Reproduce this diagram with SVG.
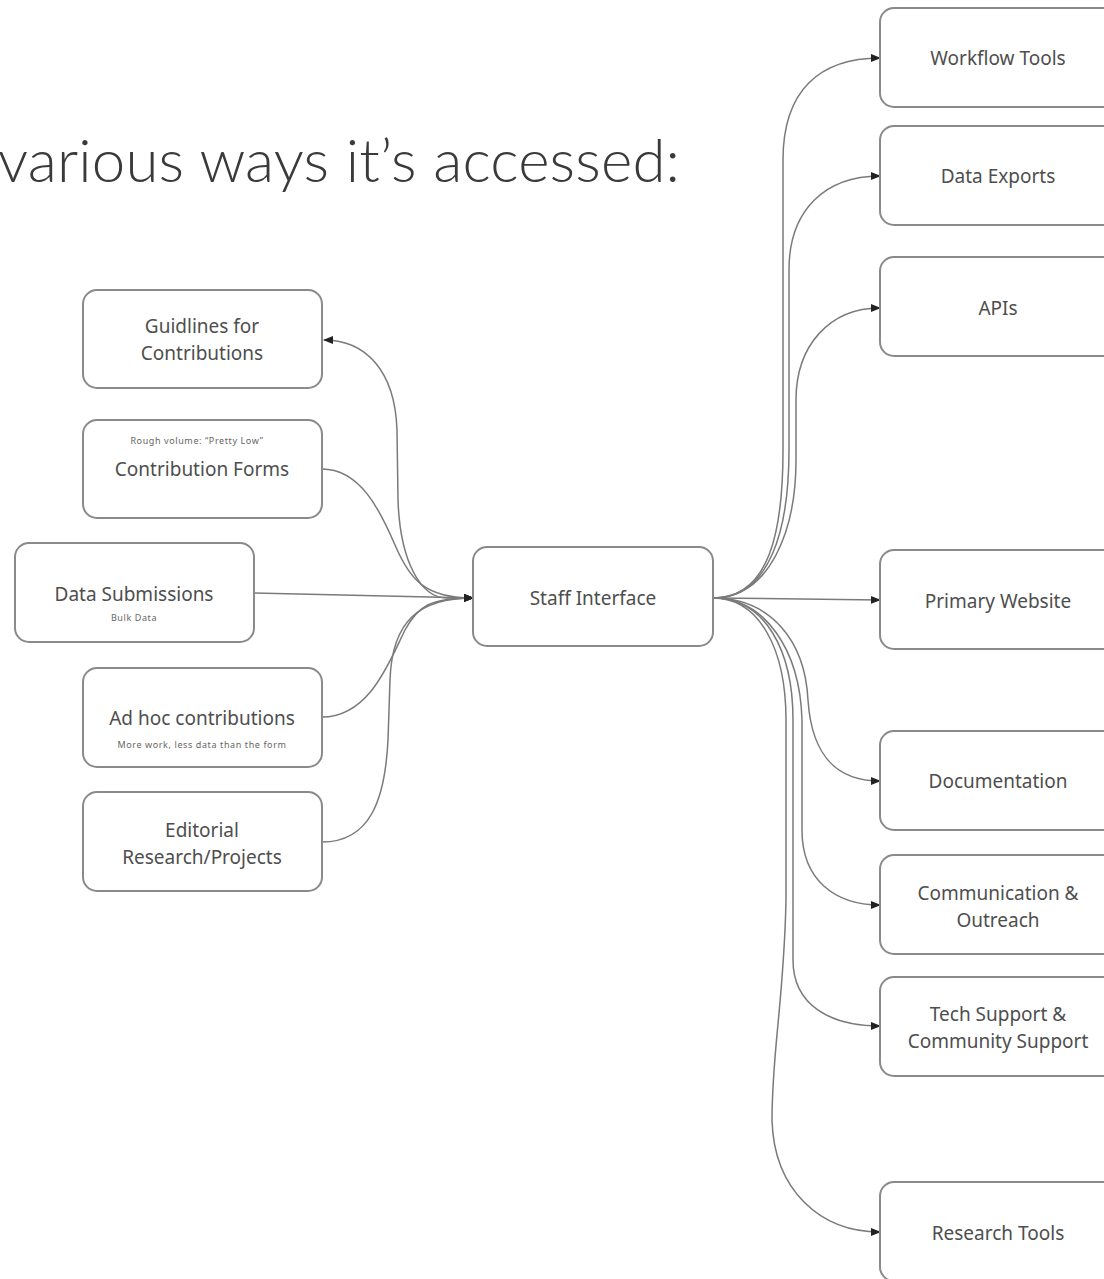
<svg xmlns="http://www.w3.org/2000/svg" width="1104" height="1279" viewBox="0 0 1104 1279">
<defs>
<style>
.box{fill:#fff;stroke:#8a8a8a;stroke-width:2}
.t{font-family:"Noto Sans","Open Sans",sans-serif;font-size:19px;fill:#4e4e4e;text-anchor:middle}
.s{font-family:"Noto Sans","Open Sans",sans-serif;font-size:9px;letter-spacing:0.6px;fill:#666;text-anchor:middle}
.c{fill:none;stroke:#7a7a7a;stroke-width:1.5}
</style>
<marker id="ah" markerUnits="userSpaceOnUse" markerWidth="10" markerHeight="10" viewBox="0 0 10 10" refX="9" refY="5" orient="auto">
<path d="M0,1 L10,5 L0,9 Z" fill="#222"/>
</marker>
</defs>
<rect width="1104" height="1279" fill="#fff"/>
<text x="-2" y="182" font-family="Lato,sans-serif" font-weight="300" font-size="60" fill="#3a3a3a" textLength="682" lengthAdjust="spacing">various ways it’s accessed:</text>

<g id="connectors">
<path class="c" marker-end="url(#ah)" d="M473,598 L447,598 C420,598 400,560 398,500 L397,430 C395,370 365,340 324,340"/>
<path class="c" marker-end="url(#ah)" d="M322,469 C360,469 380,510 395,545 C410,580 425,598 473,598"/>
<path class="c" marker-end="url(#ah)" d="M254,593 L473,598"/>
<path class="c" marker-end="url(#ah)" d="M322,717 C370,717 390,660 405,630 C418,606 430,598 473,598"/>
<path class="c" marker-end="url(#ah)" d="M322,842 C370,842 385,800 388,740 L390,680 C392,620 420,598 473,598"/>
<path class="c" marker-end="url(#ah)" d="M713,598 C770,598 783,530 783,450 L783,160 C783,90 820,58 880,58"/>
<path class="c" marker-end="url(#ah)" d="M713,598 C770,598 789,530 789,450 L789,270 C789,210 825,176 880,176"/>
<path class="c" marker-end="url(#ah)" d="M713,598 C770,598 796,530 796,460 L796,400 C796,345 830,308 880,308"/>
<path class="c" marker-end="url(#ah)" d="M713,598 L880,600"/>
<path class="c" marker-end="url(#ah)" d="M713,598 C770,598 805,640 808,700 C812,760 840,781 880,781"/>
<path class="c" marker-end="url(#ah)" d="M713,598 C765,598 800,650 802,720 L802,830 C802,880 835,905 880,905"/>
<path class="c" marker-end="url(#ah)" d="M713,598 C765,598 793,650 793,720 L793,960 C793,1005 830,1026 880,1026"/>
<path class="c" marker-end="url(#ah)" d="M713,598 C760,598 786,650 786,720 L786,900 C784,1000 772,1050 772,1120 C774,1190 820,1232 880,1232"/>
</g>

<g id="guidlines"><rect class="box" x="83" y="290" width="239" height="98" rx="14"/><text class="t" x="202" y="333">Guidlines for</text><text class="t" x="202" y="360">Contributions</text></g>
<g id="contribution-forms"><rect class="box" x="83" y="420" width="239" height="98" rx="14"/><text class="s" x="197" y="444">Rough volume: “Pretty Low”</text><text class="t" x="202" y="476">Contribution Forms</text></g>
<g id="data-submissions"><rect class="box" x="15" y="543" width="239" height="99" rx="14"/><text class="t" x="134" y="601">Data Submissions</text><text class="s" x="134" y="621">Bulk Data</text></g>
<g id="ad-hoc"><rect class="box" x="83" y="668" width="239" height="99" rx="14"/><text class="t" x="202" y="725">Ad hoc contributions</text><text class="s" x="202" y="748">More work, less data than the form</text></g>
<g id="editorial"><rect class="box" x="83" y="792" width="239" height="99" rx="14"/><text class="t" x="202" y="837">Editorial</text><text class="t" x="202" y="864">Research/Projects</text></g>
<g id="staff-interface"><rect class="box" x="473" y="547" width="240" height="99" rx="14"/><text class="t" x="593" y="605">Staff Interface</text></g>

<g id="workflow-tools"><rect class="box" x="880" y="8" width="240" height="99" rx="14"/><text class="t" x="998" y="65">Workflow Tools</text></g>
<g id="data-exports"><rect class="box" x="880" y="126" width="240" height="99" rx="14"/><text class="t" x="998" y="183">Data Exports</text></g>
<g id="apis"><rect class="box" x="880" y="257" width="240" height="99" rx="14"/><text class="t" x="998" y="315">APIs</text></g>
<g id="primary-website"><rect class="box" x="880" y="550" width="240" height="99" rx="14"/><text class="t" x="998" y="608">Primary Website</text></g>
<g id="documentation"><rect class="box" x="880" y="731" width="240" height="99" rx="14"/><text class="t" x="998" y="788">Documentation</text></g>
<g id="communication"><rect class="box" x="880" y="855" width="240" height="99" rx="14"/><text class="t" x="998" y="900">Communication &amp;</text><text class="t" x="998" y="927">Outreach</text></g>
<g id="tech-support"><rect class="box" x="880" y="977" width="240" height="99" rx="14"/><text class="t" x="998" y="1021">Tech Support &amp;</text><text class="t" x="998" y="1048">Community Support</text></g>
<g id="research-tools"><rect class="box" x="880" y="1182" width="240" height="99" rx="14"/><text class="t" x="998" y="1240">Research Tools</text></g>
</svg>
